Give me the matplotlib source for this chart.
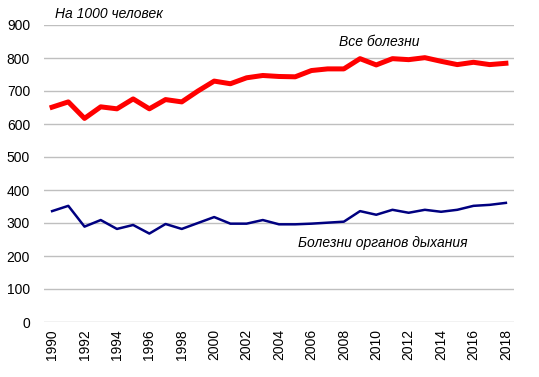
import matplotlib.pyplot as plt

plt.rcParams['font.family'] = ['Liberation Sans', 'DejaVu Sans']

years = list(range(1990, 2019))
all_diseases = [651, 667, 617, 652, 646, 676, 646, 674, 667, 700,
                730, 722, 740, 747, 744, 743, 762, 767, 767, 798,
                779, 798, 795, 801, 790, 780, 787, 780, 784]
respiratory = [336, 352, 289, 309, 282, 294, 268, 297, 282, 300,
               318, 298, 298, 309, 296, 296, 298, 301, 304, 336,
               325, 340, 331, 340, 334, 340, 352, 355, 361]
tick_years = list(range(1990, 2019, 2))
y_ticks = list(range(0, 901, 100))

fig = plt.figure(figsize=(5.39, 3.77), dpi=100)
ax = fig.add_axes([44 / 539, 55 / 377, 470 / 539, 297 / 377])

ax.plot(years, all_diseases, color='#ff0000', linewidth=3.6, solid_joinstyle='round')
ax.plot(years, respiratory, color='#000080', linewidth=1.8, solid_joinstyle='round')

ax.set_xlim(1989.5, 2018.5)
ax.set_ylim(0, 900)
ax.set_yticks(y_ticks)
ax.set_xticks(tick_years)
ax.set_xticklabels([str(y) for y in tick_years], rotation=90)
ax.tick_params(axis='both', length=0, labelsize=10, colors='black')
ax.tick_params(axis='x', pad=5)
ax.tick_params(axis='y', pad=10)
ax.grid(axis='y', color='#bfbfbf', linewidth=1)
ax.set_axisbelow(True)
for s in ax.spines.values():
    s.set_visible(False)

fig.text(55 / 539, 1 - 14 / 377, 'На 1000 человек', fontsize=10, style='italic', va='center')
ax.text(2010.2, 848, 'Все болезни', fontsize=10, style='italic', ha='center', va='center')
ax.text(2010.4, 239, 'Болезни органов дыхания', fontsize=10, style='italic', ha='center', va='center')

fig.savefig('out.png', dpi=100)
